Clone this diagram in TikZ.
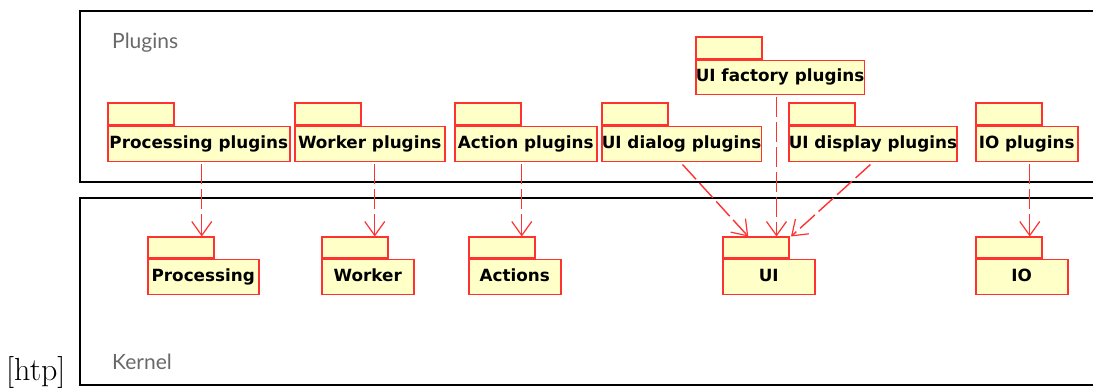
\documentclass[tikz,border=0pt]{standalone}
\usepackage{fontspec}
\newfontfamily\pkgfont{DejaVu Sans}
\newfontfamily\lblfont{Lato}
\usetikzlibrary{arrows.meta}
\definecolor{pkgred}{RGB}{255,50,50}
\definecolor{pkgfill}{RGB}{255,255,200}
\definecolor{lblgray}{RGB}{105,105,105}
\tikzset{
  pkgbody/.style={draw=pkgred, fill=pkgfill, line width=1.5pt, inner sep=0pt,
    minimum height=35pt, anchor=north west, text height=12pt, text depth=3.5pt,
    font=\pkgfont\bfseries\fontsize{16.8}{18}\selectfont, text=black},
  pkgtab/.style={draw=pkgred, fill=pkgfill, line width=1.5pt, inner sep=0pt,
    minimum width=66pt, minimum height=22pt, anchor=south west},
  frame/.style={draw=black, line width=1.4pt},
  lbl/.style={font=\lblfont\fontsize{21}{24}\selectfont, text=lblgray, inner sep=0pt, anchor=base west},
  dep/.style={draw=pkgred, line width=1.4pt, dash pattern=on 20pt off 5pt,
    -{Straight Barb[length=14pt,width=20pt,line width=1.2pt]}}
}
\begin{document}
\begin{tikzpicture}[x=1pt,y=-1pt]
\useasboundingbox (0,0) rectangle (1093,390);
\clip (0,0) rectangle (1093,390);
\fill[white] (0,0) rectangle (1093,390);
% frames
\draw[frame] (80,11) rectangle (1110,182);
\draw[frame] (80,198) rectangle (1110,385);
\node[lbl] (plg) at (112,49) {Plugins};
\node[lbl] (krn) at (112,369) {Kernel};
\node[anchor=base west, inner sep=0pt, font=\rmfamily\fontsize{32}{36}\selectfont] (htp) at (6,380) {[htp]};
% plugin packages
\node[pkgbody, minimum width=182pt] (pp) at (107,126) {Processing plugins};
\node[pkgtab] (ppt) at (pp.north west) {};
\node[pkgbody, minimum width=150pt] (wp) at (294,126) {Worker plugins};
\node[pkgtab] (wpt) at (wp.north west) {};
\node[pkgbody, minimum width=142pt] (ap) at (454,126) {Action plugins};
\node[pkgtab] (apt) at (ap.north west) {};
\node[pkgbody, minimum width=158pt] (udp) at (601,126) {UI dialog plugins};
\node[pkgtab] (udpt) at (udp.north west) {};
\node[pkgbody, minimum width=167pt, minimum height=34pt] (ufp) at (695,60) {UI factory plugins};
\node[pkgtab] (ufpt) at (ufp.north west) {};
\node[pkgbody, minimum width=165pt] (usp) at (788,126) {UI display plugins};
\node[pkgtab] (uspt) at (usp.north west) {};
\node[pkgbody, minimum width=102pt] (iop) at (975,126) {IO plugins};
\node[pkgtab] (iopt) at (iop.north west) {};
% kernel packages
\node[pkgbody, minimum width=111pt] (pr) at (147,259) {Processing};
\node[pkgtab, minimum height=21pt] (prt) at (pr.north west) {};
\node[pkgbody, minimum width=92pt] (wk) at (321,259) {Worker};
\node[pkgtab, minimum height=21pt] (wkt) at (wk.north west) {};
\node[pkgbody, minimum width=92pt] (ac) at (468,259) {Actions};
\node[pkgtab, minimum height=21pt] (act) at (ac.north west) {};
\node[pkgbody, minimum width=92pt] (ui) at (722,259) {UI};
\node[pkgtab, minimum height=21pt] (uit) at (ui.north west) {};
\node[pkgbody, minimum width=92pt] (io) at (975,259) {IO};
\node[pkgtab, minimum height=21pt] (iot) at (io.north west) {};
% dependencies
\draw[dep] ([xshift=3pt,yshift=-2pt]pp.south) -- ([xshift=3pt]pp.south |- prt.north);
\draw[dep] ([xshift=5pt,yshift=-2pt]wp.south) -- ([xshift=5pt]wp.south |- wkt.north);
\draw[dep] ([xshift=-4pt,yshift=-2pt]ap.south) -- ([xshift=-4pt]ap.south |- act.north);
\draw[dep] ([xshift=3pt,yshift=-2pt]iop.south) -- ([xshift=3pt]iop.south |- iot.north);
\draw[dep] ([xshift=1pt,yshift=-2pt]udp.south) -- ([xshift=-7.5pt]uit.north);
\draw[dep] ([xshift=-3.5pt,yshift=-2pt]ufp.south) -- ([xshift=-3.5pt]ufp.south |- uit.north);
\draw[dep] ([xshift=-2.5pt,yshift=-2pt]usp.south) -- ([xshift=1.5pt]uit.north east);
\end{tikzpicture}
\end{document}
